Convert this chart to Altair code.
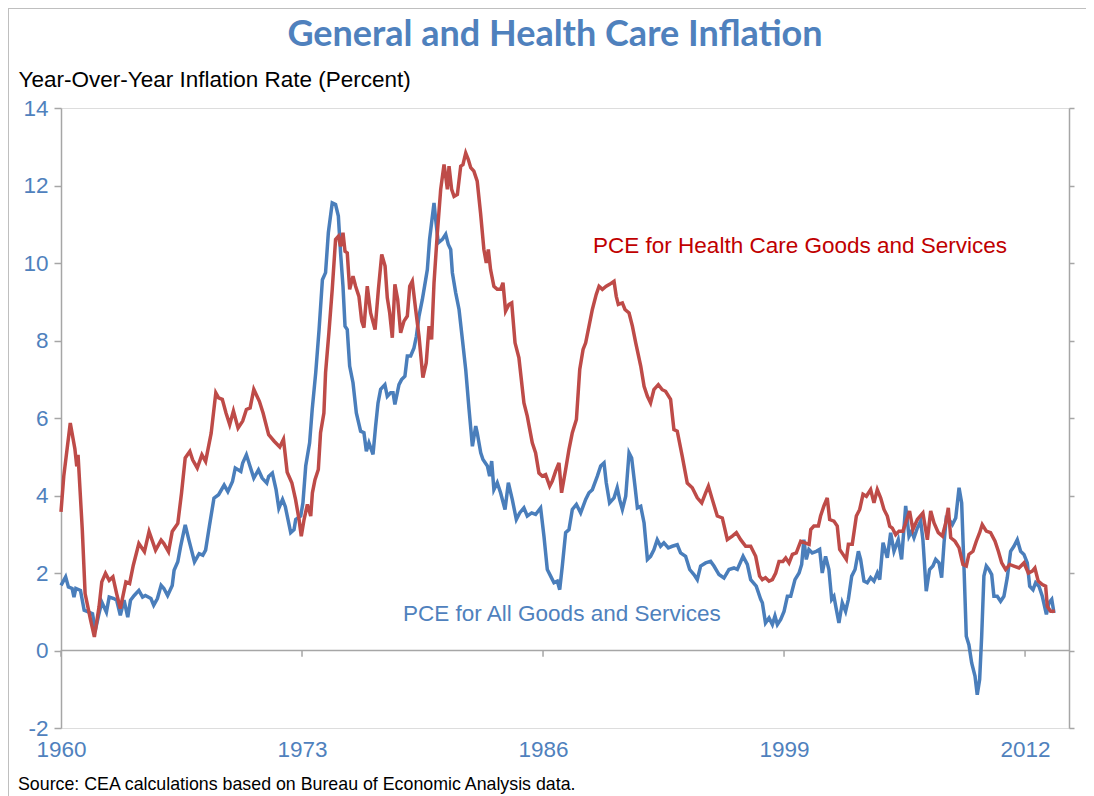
import altair as alt
import pandas as pd

# ---------------- data ----------------
health_years = [
    1960.0, 1960.15, 1960.5, 1960.75, 1960.85, 1960.92, 1961.15, 1961.3, 1961.6, 1961.8,
    1962.05, 1962.2, 1962.4, 1962.6, 1962.8, 1963.0, 1963.2, 1963.5, 1963.7, 1963.9,
    1964.2, 1964.5, 1964.75, 1965.1, 1965.4, 1965.55, 1965.8, 1966.0, 1966.3, 1966.5,
    1966.7, 1966.95, 1967.1, 1967.35, 1967.6, 1967.8, 1968.1, 1968.35, 1968.5, 1968.7,
    1968.9, 1969.1, 1969.3, 1969.55, 1969.8, 1970.0, 1970.2, 1970.4, 1970.7, 1970.9,
    1971.2, 1971.5, 1971.8, 1972.0, 1972.2, 1972.45, 1972.65, 1972.84, 1972.96, 1973.11,
    1973.29, 1973.47, 1973.56, 1973.7, 1973.88, 1974.0, 1974.18, 1974.27, 1974.45, 1974.63,
    1974.81, 1974.96, 1975.08, 1975.21, 1975.32, 1975.44, 1975.57, 1975.75, 1975.89, 1976.07,
    1976.22, 1976.34, 1976.52, 1976.7, 1976.94, 1977.12, 1977.3, 1977.48, 1977.6, 1977.73,
    1977.87, 1978.01, 1978.16, 1978.32, 1978.5, 1978.68, 1978.81, 1978.95, 1979.13, 1979.31,
    1979.52, 1979.7, 1979.85, 1979.99, 1980.12, 1980.3, 1980.48, 1980.66, 1980.75, 1980.84,
    1980.93, 1981.07, 1981.2, 1981.38, 1981.56, 1981.68, 1981.83, 1981.97, 1982.1, 1982.27,
    1982.45, 1982.63, 1982.81, 1982.94, 1983.05, 1983.17, 1983.35, 1983.53, 1983.71, 1983.84,
    1983.98, 1984.16, 1984.31, 1984.49, 1984.7, 1984.97, 1985.15, 1985.42, 1985.6, 1985.78,
    1985.96, 1986.14, 1986.36, 1986.5, 1986.68, 1986.86, 1987.0, 1987.22, 1987.4, 1987.58,
    1987.8, 1987.98, 1988.16, 1988.3, 1988.48, 1988.66, 1988.87, 1989.02, 1989.2, 1989.41,
    1989.59, 1989.83, 1989.95, 1990.06, 1990.28, 1990.42, 1990.64, 1990.82, 1991.0, 1991.27,
    1991.45, 1991.63, 1991.8, 1991.98, 1992.22, 1992.43, 1992.61, 1992.88, 1993.06, 1993.24,
    1993.51, 1993.78, 1994.05, 1994.32, 1994.56, 1994.77, 1994.92, 1995.13, 1995.4, 1995.67,
    1995.94, 1996.21, 1996.43, 1996.66, 1996.93, 1997.2, 1997.47, 1997.68, 1997.83, 1998.0,
    1998.19, 1998.37, 1998.55, 1998.73, 1998.94, 1999.09, 1999.27, 1999.45, 1999.66, 1999.9,
    2000.13, 2000.35, 2000.44, 2000.61, 2000.85, 2000.97, 2001.15, 2001.33, 2001.46, 2001.69,
    2001.87, 2002.0, 2002.18, 2002.36, 2002.47, 2002.68, 2002.9, 2003.08, 2003.26, 2003.44,
    2003.67, 2003.85, 2004.03, 2004.21, 2004.39, 2004.57, 2004.7, 2004.84, 2005.02, 2005.2,
    2005.41, 2005.56, 2005.77, 2005.95, 2006.19, 2006.49, 2006.73, 2006.91, 2007.09, 2007.32,
    2007.54, 2007.72, 2007.86, 2007.99, 2008.22, 2008.44, 2008.65, 2008.83, 2008.97, 2009.19,
    2009.37, 2009.55, 2009.69, 2009.91, 2010.14, 2010.38, 2010.56, 2010.74, 2010.95, 2011.17,
    2011.4, 2011.67, 2011.94, 2012.18, 2012.39, 2012.53, 2012.71, 2012.93, 2013.11, 2013.2,
    2013.38, 2013.61,
]
health_values = [
    3.58, 4.5, 5.87, 5.2, 4.75, 5.05, 3.1, 1.47, 0.78, 0.35,
    1.12, 1.77, 1.99, 1.81, 1.9, 1.47, 1.08, 1.77, 1.73, 2.2,
    2.76, 2.55, 3.07, 2.59, 2.85, 2.76, 2.55, 3.07, 3.28, 4.06,
    4.97, 5.14, 4.92, 4.71, 5.05, 4.88, 5.61, 6.65, 6.52, 6.48,
    6.13, 5.83, 6.18, 5.74, 5.92, 6.22, 6.26, 6.74, 6.43, 6.13,
    5.57, 5.4, 5.25, 5.45, 4.6, 4.33, 3.9, 3.38, 2.95, 3.38,
    3.77, 3.47, 4.07, 4.41, 4.67, 5.62, 6.13, 7.17, 8.2, 9.32,
    10.61, 10.69, 10.43, 10.78, 10.3, 10.26, 9.32, 9.66, 9.4, 9.14,
    8.5, 8.33, 9.4, 8.71, 8.28, 9.32, 10.22, 9.92, 9.1, 8.71,
    8.07, 9.45, 9.06, 8.2, 8.5, 8.63, 9.4, 9.53, 8.8, 8.11,
    7.04, 7.42, 8.37, 8.03, 9.49, 10.78, 11.9, 12.54, 12.24, 11.9,
    12.5, 11.9, 11.72, 11.77, 12.5, 12.54, 12.84, 12.67, 12.46, 12.37,
    12.11, 11.29, 10.35, 10.0, 10.35, 9.83, 9.4, 9.32, 9.32, 9.49,
    8.76, 8.93, 8.97, 7.94, 7.55, 6.39, 6.05, 5.36, 5.1, 4.58,
    4.5, 4.54, 4.24, 4.37, 4.63, 4.84, 4.07, 4.67, 5.19, 5.62,
    5.96, 7.25, 7.77, 7.94, 8.37, 8.8, 9.19, 9.4, 9.32, 9.4,
    9.45, 9.53, 9.14, 8.93, 8.97, 8.8, 8.71, 8.37, 7.94, 7.34,
    6.82, 6.56, 6.39, 6.73, 6.86, 6.73, 6.69, 6.48, 5.7, 5.66,
    5.01, 4.32, 4.2, 3.94, 3.81, 4.07, 4.24, 3.9, 3.47, 3.42,
    2.86, 2.95, 3.04, 2.86, 2.69, 2.69, 2.43, 1.92, 1.83, 1.88,
    1.79, 1.83, 2.0, 2.3, 2.3, 2.39, 2.26, 2.48, 2.52, 2.82,
    2.78, 2.74, 3.12, 3.21, 3.21, 3.47, 3.73, 3.94, 3.38, 3.34,
    3.21, 2.61, 2.48, 2.35, 2.74, 2.74, 3.47, 3.64, 4.03, 3.98,
    4.15, 3.81, 4.15, 3.94, 3.64, 3.47, 3.21, 3.16, 2.99, 3.08,
    3.08, 3.29, 3.6, 3.12, 3.38, 3.55, 2.86, 3.6, 3.29, 3.04,
    2.95, 3.29, 3.68, 2.91, 2.82, 2.65, 2.22, 2.18, 2.48, 2.56,
    2.82, 3.04, 3.25, 3.08, 3.04, 2.82, 2.56, 2.26, 2.09, 2.22,
    2.18, 2.13, 2.26, 2.0, 2.05, 2.13, 1.79, 1.7, 1.66, 1.14,
    1.01, 1.01,
]

all_years = [
    1960.0, 1960.25, 1960.4, 1960.6, 1960.7, 1960.8, 1961.05, 1961.25, 1961.5, 1961.7,
    1961.85, 1962.05, 1962.2, 1962.45, 1962.6, 1962.85, 1963.0, 1963.2, 1963.4, 1963.6,
    1963.75, 1963.95, 1964.2, 1964.4, 1964.55, 1964.85, 1965.0, 1965.2, 1965.4, 1965.55,
    1965.75, 1966.0, 1966.1, 1966.3, 1966.45, 1966.7, 1966.9, 1967.2, 1967.45, 1967.65,
    1967.8, 1968.0, 1968.25, 1968.5, 1968.8, 1969.0, 1969.25, 1969.4, 1969.7, 1969.8,
    1970.0, 1970.2, 1970.4, 1970.65, 1970.85, 1971.1, 1971.2, 1971.4, 1971.6, 1971.75,
    1971.95, 1972.1, 1972.39, 1972.57, 1972.66, 1972.93, 1973.05, 1973.2, 1973.41, 1973.55,
    1973.74, 1973.92, 1974.1, 1974.27, 1974.42, 1974.63, 1974.81, 1974.96, 1975.08, 1975.21,
    1975.32, 1975.44, 1975.57, 1975.75, 1975.93, 1976.16, 1976.34, 1976.47, 1976.61, 1976.83,
    1976.97, 1977.1, 1977.24, 1977.47, 1977.6, 1977.78, 1977.91, 1978.01, 1978.23, 1978.37,
    1978.55, 1978.68, 1978.86, 1979.04, 1979.17, 1979.31, 1979.49, 1979.67, 1979.76, 1979.88,
    1979.99, 1980.12, 1980.21, 1980.35, 1980.57, 1980.75, 1980.89, 1981.02, 1981.11, 1981.29,
    1981.47, 1981.65, 1981.83, 1982.01, 1982.19, 1982.37, 1982.45, 1982.64, 1982.76, 1983.0,
    1983.12, 1983.23, 1983.35, 1983.53, 1983.71, 1983.95, 1984.13, 1984.34, 1984.56, 1984.74,
    1984.97, 1985.15, 1985.39, 1985.6, 1985.87, 1986.05, 1986.23, 1986.41, 1986.59, 1986.77,
    1986.9, 1987.04, 1987.22, 1987.4, 1987.58, 1987.8, 1988.03, 1988.3, 1988.48, 1988.66,
    1988.93, 1989.11, 1989.29, 1989.41, 1989.59, 1989.83, 1990.0, 1990.13, 1990.28, 1990.46,
    1990.64, 1990.78, 1990.96, 1991.09, 1991.27, 1991.45, 1991.63, 1991.8, 1991.98, 1992.16,
    1992.34, 1992.52, 1992.76, 1992.97, 1993.24, 1993.42, 1993.69, 1993.91, 1994.14, 1994.32,
    1994.5, 1994.77, 1995.04, 1995.22, 1995.49, 1995.76, 1996.03, 1996.3, 1996.48, 1996.79,
    1997.02, 1997.2, 1997.5, 1997.74, 1997.83, 1998.0, 1998.19, 1998.37, 1998.51, 1998.64,
    1998.82, 1999.0, 1999.18, 1999.36, 1999.59, 1999.81, 1999.95, 2000.07, 2000.2, 2000.34,
    2000.52, 2000.74, 2000.92, 2001.06, 2001.24, 2001.42, 2001.57, 2001.69, 2001.82, 2001.96,
    2002.14, 2002.32, 2002.47, 2002.65, 2002.83, 2003.01, 2003.13, 2003.31, 2003.49, 2003.67,
    2003.85, 2004.03, 2004.16, 2004.34, 2004.57, 2004.75, 2004.93, 2005.16, 2005.34, 2005.56,
    2005.74, 2005.88, 2006.01, 2006.19, 2006.37, 2006.49, 2006.67, 2006.85, 2007.03, 2007.18,
    2007.36, 2007.5, 2007.63, 2007.75, 2007.9, 2008.08, 2008.26, 2008.44, 2008.58, 2008.71,
    2008.83, 2008.97, 2009.12, 2009.3, 2009.42, 2009.55, 2009.66, 2009.78, 2009.91, 2010.05,
    2010.2, 2010.32, 2010.5, 2010.68, 2010.86, 2011.04, 2011.22, 2011.4, 2011.58, 2011.76,
    2011.94, 2012.12, 2012.25, 2012.43, 2012.57, 2012.75, 2012.93, 2013.15, 2013.29, 2013.44,
    2013.56,
]
all_values = [
    1.68, 1.9, 1.64, 1.6, 1.38, 1.6, 1.55, 1.04, 0.99, 0.95,
    0.52, 0.95, 1.25, 0.99, 1.38, 1.34, 1.3, 0.91, 1.3, 0.86,
    1.3, 1.42, 1.55, 1.38, 1.42, 1.34, 1.17, 1.34, 1.68, 1.6,
    1.42, 1.68, 2.07, 2.29, 2.68, 3.24, 2.85, 2.29, 2.5, 2.46,
    2.59, 3.2, 3.93, 4.02, 4.27, 4.1, 4.36, 4.71, 4.62, 4.84,
    5.05, 4.75, 4.45, 4.66, 4.45, 4.32, 4.49, 4.58, 4.15, 3.67,
    3.9, 3.71, 3.04, 3.12, 3.38, 3.47, 3.81, 4.76, 5.36, 6.22,
    7.17, 8.28, 9.57, 9.75, 10.78, 11.55, 11.51, 11.21, 10.26, 9.4,
    8.37, 8.28, 7.34, 6.91, 6.13, 5.66, 5.62, 5.14, 5.36, 5.06,
    5.79, 6.39, 6.74, 6.86, 6.56, 6.65, 6.65, 6.35, 6.86, 6.99,
    7.08, 7.6, 7.6, 7.81, 8.11, 8.63, 9.06, 9.57, 9.83, 10.61,
    11.04, 11.55, 11.12, 10.52, 10.61, 10.74, 10.48, 10.35, 9.75, 9.23,
    8.8, 8.03, 7.25, 6.22, 5.27, 5.79, 5.62, 5.1, 4.93, 4.76,
    4.5, 4.89, 4.15, 4.33, 4.07, 3.64, 4.33, 3.9, 3.38, 3.55,
    3.68, 3.47, 3.55, 3.51, 3.68, 2.95, 2.09, 1.92, 1.75, 1.79,
    1.57, 2.18, 3.04, 3.12, 3.64, 3.77, 3.55, 3.9, 4.07, 4.15,
    4.5, 4.76, 4.84, 4.33, 3.81, 3.94, 4.2, 3.9, 3.64, 3.98,
    5.1, 4.97, 4.24, 3.68, 3.72, 3.29, 2.35, 2.43, 2.6, 2.86,
    2.69, 2.78, 2.65, 2.69, 2.73, 2.52, 2.43, 2.09, 1.96, 1.83,
    2.18, 2.26, 2.3, 2.18, 1.96, 1.87, 2.09, 2.13, 2.09, 2.43,
    2.22, 1.83, 1.66, 1.32, 1.23, 0.71, 0.84, 0.67, 0.89, 0.67,
    0.8, 1.01, 1.4, 1.4, 1.83, 2.0, 2.22, 2.86, 2.35, 2.61,
    2.52, 2.56, 2.61, 2.0, 2.43, 2.09, 1.32, 1.4, 1.06, 0.71,
    1.23, 1.01, 1.32, 1.92, 2.09, 2.56, 2.35, 1.79, 1.75, 1.88,
    1.79, 2.0, 1.83, 2.78, 2.39, 3.04, 2.56, 2.86, 2.35, 3.73,
    2.95, 3.08, 2.91, 3.16, 3.34, 2.86, 1.53, 2.09, 2.18, 2.35,
    2.26, 1.88, 2.78, 3.42, 3.38, 3.25, 3.42, 4.2, 3.81, 2.09,
    0.37, 0.15, -0.32, -0.66, -1.14, -0.75, 0.37, 1.92, 2.18, 2.09,
    1.96, 1.4, 1.4, 1.27, 1.4, 1.88, 2.56, 2.69, 2.86, 2.56,
    2.48, 2.26, 1.66, 1.57, 1.75, 1.66, 1.4, 0.93, 1.23, 1.32,
    0.97,
]

tick_years = [1960, 1973, 1986, 1999, 2012]
y_ticks = [-2, 0, 2, 4, 6, 8, 10, 12, 14]

label_texts = ["PCE for Health Care Goods and Services", "PCE for All Goods and Services"]
label_years = [1988.7, 1978.45]
label_values = [10.43, 0.93]
label_colors = ["#C00000", "#4F81BD"]

title_text = "General and Health Care Inflation"
y_title_text = "Year-Over-Year Inflation Rate (Percent)"
source_text = "Source: CEA calculations based on Bureau of Economic Analysis data."

# ---------------- styling ----------------
BLUE_LINE = "#4A7EBB"
RED_LINE = "#BE4B48"
AXIS_GRAY = "#A6A6A6"
TICK_BLUE = "#4F81BD"
FONT = "Liberation Sans"

W, H = 1008, 620

x_scale = alt.Scale(domain=[1960, 2014.37], nice=False, zero=False)
y_scale = alt.Scale(domain=[-2, 14], nice=False, zero=False)

health_df = pd.DataFrame({"year": health_years, "value": health_values})
all_df = pd.DataFrame({"year": all_years, "value": all_values})
ticks_df = pd.DataFrame({"year": tick_years})
labels_df = pd.DataFrame({"text": label_texts, "year": label_years,
                          "value": label_values, "color": label_colors})
one_row = pd.DataFrame({"k": [0]})

x_axis = alt.Axis(values=tick_years, format="d", domain=False, ticks=False, grid=False,
                  labelFont=FONT, labelFontSize=22.5, labelColor=TICK_BLUE,
                  labelPadding=10, labelFlush=False, title=None)

y_axis_left = alt.Axis(orient="left", values=y_ticks, grid=False, domainColor=AXIS_GRAY,
                       domainWidth=1.5, tickColor=AXIS_GRAY, tickWidth=1.5, tickSize=7,
                       labelFont=FONT, labelFontSize=22.5, labelColor=TICK_BLUE,
                       labelPadding=6, labelFlush=False, labelExpr="'' + datum.value",
                       title=y_title_text, titleAngle=0, titleAlign="left",
                       titleBaseline="alphabetic", titleX=-43, titleY=-22,
                       titleFont=FONT, titleFontSize=22.5, titleFontWeight="normal",
                       titleColor="black")

y_axis_right = alt.Axis(orient="right", values=y_ticks, grid=False, labels=False,
                        domainColor=AXIS_GRAY, domainWidth=1.5, tickColor=AXIS_GRAY,
                        tickWidth=1.5, tickSize=5, title=None)

blue_line = alt.Chart(all_df).mark_line(color=BLUE_LINE, strokeWidth=3.5).encode(
    x=alt.X("year:Q", scale=x_scale, axis=x_axis),
    y=alt.Y("value:Q", scale=y_scale, axis=y_axis_left),
)

red_line = alt.Chart(health_df).mark_line(color=RED_LINE, strokeWidth=3.5).encode(
    x=alt.X("year:Q", scale=x_scale),
    y=alt.Y("value:Q", scale=y_scale, axis=y_axis_right),
)

zero_line = alt.Chart(one_row).mark_rule(color=AXIS_GRAY, strokeWidth=1.5).encode(
    y=alt.Y(datum=0, scale=y_scale, axis=None),
)

x_ticks = alt.Chart(ticks_df).mark_rule(color=AXIS_GRAY, strokeWidth=1.5).encode(
    x=alt.X("year:Q", scale=x_scale),
    y=alt.Y(datum=0, scale=y_scale, axis=None),
    y2=alt.datum(-0.16),
)

series_labels = alt.Chart(labels_df).mark_text(
    align="left", baseline="middle", font=FONT, fontSize=22.5
).encode(
    x=alt.X("year:Q", scale=x_scale),
    y=alt.Y("value:Q", scale=y_scale, axis=None),
    text="text:N",
    color=alt.Color("color:N", scale=None),
)

title_mark = alt.Chart(one_row).mark_text(
    text=title_text, font="Lato", fontSize=36, fontWeight="bold", color=TICK_BLUE,
    align="center", baseline="middle"
).encode(x=alt.value(494), y=alt.value(-73))

source_mark = alt.Chart(one_row).mark_text(
    text=source_text, font=FONT, fontSize=17.8, color="black",
    align="left", baseline="middle"
).encode(x=alt.value(-43), y=alt.value(677))

border_left = alt.Chart(one_row).mark_rule(color="#BFBFBF", strokeWidth=1).encode(
    x=alt.value(-52.5), y=alt.value(-100), y2=alt.value(700)
)
border_top = alt.Chart(one_row).mark_rule(color="#BFBFBF", strokeWidth=1).encode(
    x=alt.value(-53), x2=alt.value(1025), y=alt.value(-99.5)
)

chart = alt.layer(
    border_left, border_top,
    zero_line, x_ticks,
    blue_line, red_line,
    series_labels, title_mark, source_mark,
).resolve_axis(y="independent").properties(
    width=W, height=H,
    autosize=alt.AutoSizeParams(type="none"),
    padding={"left": 53, "top": 100, "right": 17, "bottom": 72},
).configure_view(stroke=None).configure(background="white")

chart.save("out.html", embed_options={"renderer": "svg", "actions": False})
